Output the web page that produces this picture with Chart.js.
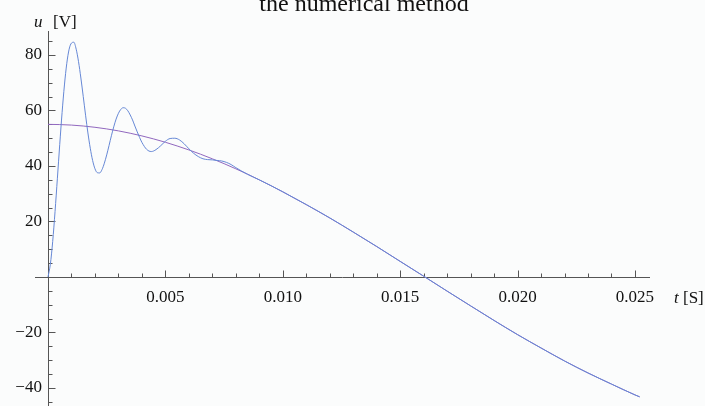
<!DOCTYPE html>
<html>
<head>
<meta charset="utf-8">
<script src="https://cdn.jsdelivr.net/npm/chart.js@4.4.1/dist/chart.umd.min.js"></script>
<style>
html,body{margin:0;padding:0;background:#fbfcfc;}
#wrap{width:705px;height:406px;position:relative;}
</style>
</head>
<body>
<div id="wrap"><canvas id="c" width="705" height="406"></canvas></div>
<script>
// ---- data ----
const chartTitle = "the numerical method";
// numerical solution u(t)
const tNumerical = [0,0.0001,0.0002,0.0003,0.0004,0.0005,0.0006,0.0007,0.0008,0.0009,
  0.0010,0.0011,0.0012,0.0013,0.0014,0.0015,0.0016,0.0017,0.0018,0.0019,
  0.0020,0.0021,0.0022,0.0023,0.0024,0.0025,0.0026,0.0027,0.0028,0.0029,
  0.0030,0.0031,0.0032,0.0033,0.0034,0.0035,0.0036,0.0037,0.0038,0.0039,
  0.0040,0.0042,0.0044,0.0046,0.0048,0.0050,0.0052,0.0054,0.0056,0.0058,
  0.0060,0.0062,0.0064,0.0066,0.0068,0.0070,0.0072,0.0074,0.0076,0.0078,
  0.0080,0.0085,0.0090,0.0095,0.0100,0.0110,0.0120,0.0130,0.0140,0.0150,
  0.0160,0.0170,0.0180,0.0190,0.0200,0.0210,0.0220,0.0230,0.0240,0.0250,0.0252];
const uNumerical = [0,4.6,12.8,23.6,35.6,47.8,59.3,69.2,77.0,82.1,
  84.3,84.6,82.1,77.6,71.7,65.1,58.3,51.9,46.4,42.0,
  39.0,37.6,37.5,38.7,41.0,44.0,47.4,50.9,54.1,56.9,
  59.0,60.4,61.0,60.8,59.9,58.4,56.6,54.4,52.3,50.3,
  48.5,46.0,45.2,45.9,47.3,48.9,49.9,50.0,49.4,48.0,
  46.2,44.6,43.4,42.6,42.3,42.2,42.0,41.8,41.3,40.5,
  39.4,37.0,35.0,32.9,30.7,26.1,21.3,16.2,11.0,5.6,
  0.3,-5.1,-10.4,-15.7,-20.8,-25.6,-30.3,-34.6,-38.6,-42.5,-43.2];
// steady (analytical) solution u(t)
const tSteady = [0,0.0005,0.0010,0.0015,0.0020,0.0025,0.0030,0.0035,0.0040,0.0045,
  0.0050,0.0055,0.0060,0.0065,0.0070,0.0075,0.0080,0.0085,0.0090,0.0095,
  0.0100,0.0110,0.0120,0.0130,0.0140,0.0150,0.0160,0.0170,0.0180,0.0190,
  0.0200,0.0210,0.0220,0.0230,0.0240,0.0250,0.0252];
const uSteady = [55.0,54.93,54.74,54.41,53.95,53.36,52.65,51.81,50.84,49.75,
  48.55,47.22,45.79,44.24,42.59,40.84,38.98,37.04,35.0,32.88,
  30.68,26.06,21.26,16.18,10.96,5.64,0.27,-5.11,-10.43,-15.66,
  -20.77,-25.59,-30.25,-34.6,-38.6,-42.5,-43.2];
// axes
const xMajorTicks = [0.005,0.010,0.015,0.020,0.025];
const xMinorTicks = [0.001,0.002,0.003,0.004,0.006,0.007,0.008,0.009,0.011,0.012,0.013,0.014,
  0.016,0.017,0.018,0.019,0.021,0.022,0.023,0.024];
const yMajorTicks = [-40,-20,20,40,60,80];
const yMinorTicks = [-45,-35,-30,-25,-15,-10,-5,5,10,15,25,30,35,45,50,55,65,70,75,85];
const xRange = [-0.000554, 0.02564];
const yRange = [-46.5, 88.65];
const xAxisName = ["t", "[S]"];
const yAxisName = ["u", "[V]"];

const toPts = (xs, ys) => xs.map((x, i) => ({x: x, y: ys[i]}));

const serif = "'Liberation Serif','Times New Roman',serif";

const axesPlugin = {
  id: 'mathAxes',
  beforeDraw(chart) {
    const ctx = chart.ctx;
    ctx.save();
    ctx.fillStyle = '#fbfcfc';
    ctx.fillRect(0, 0, chart.width, chart.height);
    ctx.restore();
  },
  beforeDatasetsDraw(chart) {
    const ctx = chart.ctx, xs = chart.scales.x, ys = chart.scales.y;
    const x0 = Math.round(xs.getPixelForValue(0)) + 0.5;
    const y0 = Math.round(ys.getPixelForValue(0)) + 0.5;
    ctx.save();
    ctx.strokeStyle = '#555';
    ctx.lineWidth = 1;
    ctx.beginPath();
    ctx.moveTo(xs.left, y0); ctx.lineTo(xs.right, y0);
    ctx.moveTo(x0, ys.top); ctx.lineTo(x0, ys.bottom);
    xMajorTicks.forEach(v => { const p = Math.round(xs.getPixelForValue(v)) + 0.5; ctx.moveTo(p, y0); ctx.lineTo(p, y0 - 7); });
    xMinorTicks.forEach(v => { const p = Math.round(xs.getPixelForValue(v)) + 0.5; ctx.moveTo(p, y0); ctx.lineTo(p, y0 - 4); });
    yMajorTicks.forEach(v => { const p = Math.round(ys.getPixelForValue(v)) + 0.5; ctx.moveTo(x0, p); ctx.lineTo(x0 + 7, p); });
    yMinorTicks.forEach(v => { const p = Math.round(ys.getPixelForValue(v)) + 0.5; ctx.moveTo(x0, p); ctx.lineTo(x0 + 4, p); });
    ctx.stroke();
    ctx.restore();
  },
  afterDraw(chart) {
    const ctx = chart.ctx, xs = chart.scales.x, ys = chart.scales.y;
    const y0 = ys.getPixelForValue(0);
    ctx.save();
    ctx.fillStyle = '#111';
    ctx.textBaseline = 'alphabetic';
    // title
    ctx.font = "24px " + serif;
    ctx.textAlign = 'center';
    ctx.fillText(chartTitle, 364, 11);
    ctx.textAlign = 'left';
    // y axis name
    ctx.font = "italic 17px " + serif;
    ctx.fillText(yAxisName[0], 34, 27);
    ctx.font = "17px " + serif;
    ctx.fillText(yAxisName[1], 53, 27);
    // x axis name
    ctx.font = "italic 17px " + serif;
    ctx.fillText(xAxisName[0], 674, y0 + 26);
    ctx.font = "17px " + serif;
    ctx.fillText(xAxisName[1], 683, y0 + 26);
    ctx.restore();
  }
};

new Chart(document.getElementById('c'), {
  type: 'line',
  data: {
    datasets: [
      {
        label: 'numerical',
        data: toPts(tNumerical, uNumerical),
        borderColor: '#6688d6',
        borderWidth: 1,
        pointRadius: 0,
        cubicInterpolationMode: 'monotone',
        fill: false,
        order: 0
      },
      {
        label: 'steady',
        data: toPts(tSteady, uSteady),
        borderColor: '#9168bf',
        borderWidth: 1,
        pointRadius: 0,
        cubicInterpolationMode: 'monotone',
        fill: false,
        order: 1
      }
    ]
  },
  options: {
    responsive: false,
    animation: false,
    events: [],
    layout: { padding: { left: 35, right: 55, top: 31, bottom: 0 } },
    plugins: { legend: { display: false }, title: { display: false }, tooltip: { enabled: false } },
    scales: {
      x: {
        type: 'linear',
        position: { y: 0 },
        min: xRange[0], max: xRange[1],
        grid: { display: false, drawTicks: false },
        border: { display: false },
        afterBuildTicks: s => { s.ticks = xMajorTicks.map(v => ({value: v})); },
        afterFit: s => { s.paddingLeft = 0; s.paddingRight = 0; s.paddingTop = 0; s.paddingBottom = 0; },
        ticks: {
          autoSkip: false, maxRotation: 0, minRotation: 0, padding: 10,
          color: '#111',
          font: { family: serif, size: 17 },
          callback: v => v.toFixed(3)
        }
      },
      y: {
        type: 'linear',
        position: { x: -0.00026 },
        min: yRange[0], max: yRange[1],
        grid: { display: false, drawTicks: false },
        border: { display: false },
        afterBuildTicks: s => { s.ticks = yMajorTicks.map(v => ({value: v})); },
        afterFit: s => { s.paddingLeft = 0; s.paddingRight = 0; s.paddingTop = 0; s.paddingBottom = 0; },
        ticks: {
          autoSkip: false, padding: 0,
          color: '#111',
          font: { family: serif, size: 17 },
          callback: v => (v < 0 ? '\u2212' + Math.abs(v) : String(v))
        }
      }
    }
  },
  plugins: [axesPlugin]
});
</script>
</body>
</html>
